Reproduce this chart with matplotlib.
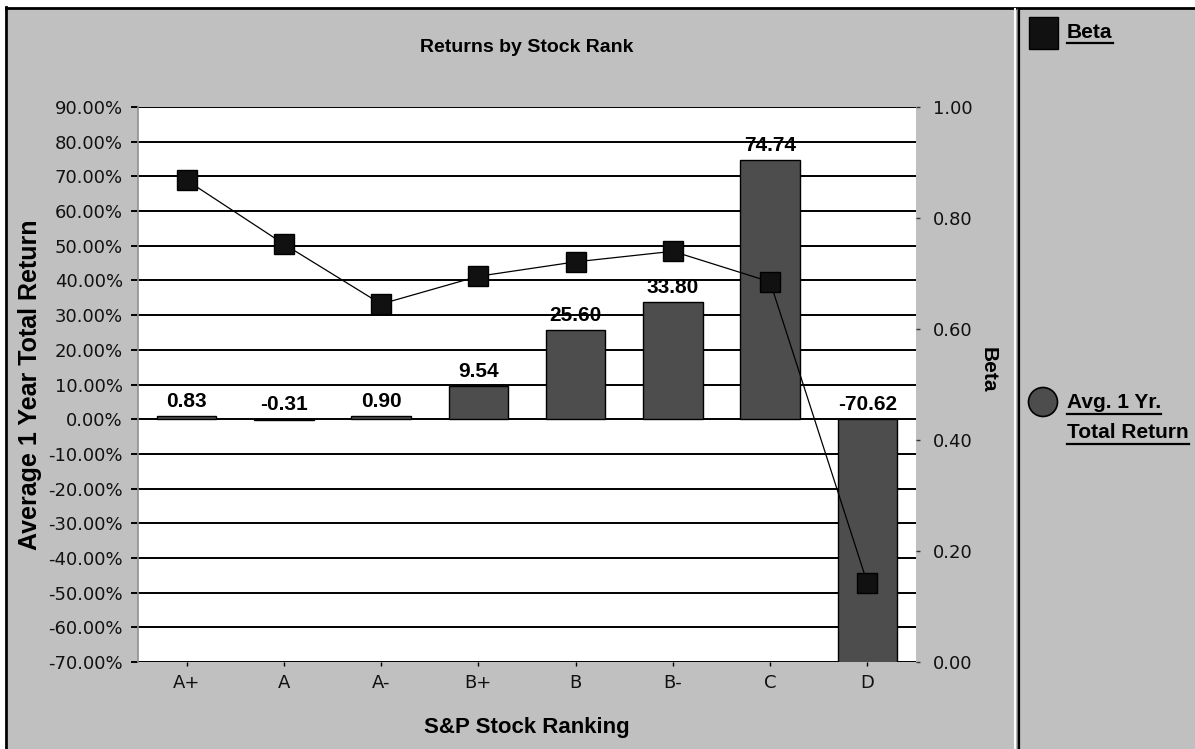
import matplotlib
matplotlib.use("Agg")
import matplotlib.pyplot as plt
from matplotlib.lines import Line2D
from matplotlib.patches import Rectangle, Circle
import numpy as np

# data
ranks = ["A+", "A", "A-", "B+", "B", "B-", "C", "D"]
returns = [0.83, -0.31, 0.90, 9.54, 25.60, 33.80, 74.74, -70.62]
beta = [0.868, 0.753, 0.645, 0.695, 0.721, 0.740, 0.685, 0.142]
ret_ticks = list(range(-70, 91, 10))
beta_ticks = [0.0, 0.2, 0.4, 0.6, 0.8, 1.0]

W, H = 1195, 749
BG = "#c0c0c0"
BAR = "#4d4d4d"
BOLD = "Liberation Sans"

fig = plt.figure(figsize=(W / 100, H / 100), dpi=100)
fig.patch.set_facecolor("white")


def px(x, y):
    # pixel coords (top-left origin) -> figure fraction
    return x / W, 1 - y / H


# panel background + frame
fig.patches.append(Rectangle((8 / W, 0), 1.1, 1 - 9 / H, transform=fig.transFigure,
                             facecolor=BG, edgecolor="none", zorder=-5))
fig.add_artist(Line2D([6 / W, 6 / W], [0, 1 - 7 / H], transform=fig.transFigure,
                      color="black", lw=2))
fig.add_artist(Line2D([6 / W, 1], [1 - 8 / H, 1 - 8 / H], transform=fig.transFigure,
                      color="black", lw=2))
# divider between chart and legend
fig.add_artist(Line2D([1014.5 / W] * 2, [0, 1 - 9 / H], transform=fig.transFigure,
                      color="white", lw=1.5))
fig.add_artist(Line2D([1016.5 / W] * 2, [0, 1 - 9 / H], transform=fig.transFigure,
                      color="#808080", lw=1))
fig.add_artist(Line2D([1019 / W] * 2, [0, 1 - 9 / H], transform=fig.transFigure,
                      color="black", lw=1.6))

# axes
l, r, t, b = 138, 916, 107, 662
ax = fig.add_axes([l / W, 1 - b / H, (r - l) / W, (b - t) / H])
ax.set_facecolor("white")
x = np.arange(len(ranks)) + 0.5
ax.set_xlim(0, len(ranks))
ax.set_ylim(-70, 90)
ax.set_yticks(ret_ticks)
ax.set_yticklabels([f"{v:.2f}%" for v in ret_ticks])
ax.yaxis.grid(True, color="black", lw=1.4, zorder=1)
ax.set_axisbelow(True)
for s in ["top", "right", "bottom"]:
    ax.spines[s].set_visible(False)
ax.spines["left"].set_color("#909090")
ax.spines["left"].set_linewidth(1.2)
ax.tick_params(axis="y", length=5, width=1.4, color="black", pad=6,
               labelsize=13, labelcolor="#111111")
ax.set_xticks(x)
ax.set_xticklabels(ranks)
ax.tick_params(axis="x", length=3, width=1, color="black", pad=6,
               labelsize=13, labelcolor="#111111")
for lab in ax.get_xticklabels() + ax.get_yticklabels():
    lab.set_family("DejaVu Sans")

ax.bar(x, returns, width=0.61, color=BAR, edgecolor="black", lw=1, zorder=2)
for xi, v in zip(x, returns):
    ax.text(xi, max(v, 0) + 1.5, f"{v:.2f}", ha="center", va="bottom",
            fontsize=15, fontweight="bold", family=BOLD, color="black", zorder=5)

ax2 = ax.twinx()
ax2.set_ylim(0, 1)
ax2.set_yticks(beta_ticks)
ax2.set_yticklabels([f"{v:.2f}" for v in beta_ticks])
for s in ax2.spines.values():
    s.set_visible(False)
ax2.tick_params(axis="y", length=3, width=1, color="#333333", pad=9,
                labelsize=13, labelcolor="#111111")
for lab in ax2.get_yticklabels():
    lab.set_family("DejaVu Sans")
ax2.plot(x, beta, color="black", lw=0.9, marker="s", markersize=15,
         markerfacecolor="#111111", markeredgecolor="black", zorder=6)

# titles and axis labels
fig.text(*px(527, 47), "Returns by Stock Rank", ha="center", va="center",
         fontsize=14, fontweight="bold", family=BOLD)
fig.text(*px(527, 727), "S&P Stock Ranking", ha="center", va="center",
         fontsize=16, fontweight="bold", family=BOLD)
fig.text(*px(30, 385), "Average 1 Year Total Return", ha="center", va="center",
         rotation=90, fontsize=18, fontweight="bold", family=BOLD)
fig.text(*px(988, 370), "Beta", ha="center", va="center",
         rotation=270, fontsize=15, fontweight="bold", family=BOLD)

# legend panel
fig.patches.append(Rectangle(px(1029, 49), 29 / W, 32 / H, transform=fig.transFigure,
                             facecolor="#111111", edgecolor="black", lw=1))
leg_circle = Circle((1043, H - 402), 14.5, transform=None,
                    facecolor=BAR, edgecolor="black", lw=1.2)
fig.add_artist(leg_circle)

leg_texts = [
    (1067, 32, "Beta", 43),
    (1067, 403, "Avg. 1 Yr.", 414),
    (1067, 432, "Total Return", 444),
]
txt_objs = []
for lx, ly, s, uy in leg_texts:
    tx = fig.text(*px(lx, ly), s, ha="left", va="center", fontsize=15,
                  fontweight="bold", family=BOLD)
    txt_objs.append((tx, uy))

fig.canvas.draw()
renderer = fig.canvas.get_renderer()
for tx, uy in txt_objs:
    bb = tx.get_window_extent(renderer)
    fig.add_artist(Line2D([bb.x0 / W, bb.x1 / W], [1 - uy / H] * 2,
                          transform=fig.transFigure, color="black", lw=1.6))

fig.savefig("out.png", dpi=100, facecolor=fig.get_facecolor())
